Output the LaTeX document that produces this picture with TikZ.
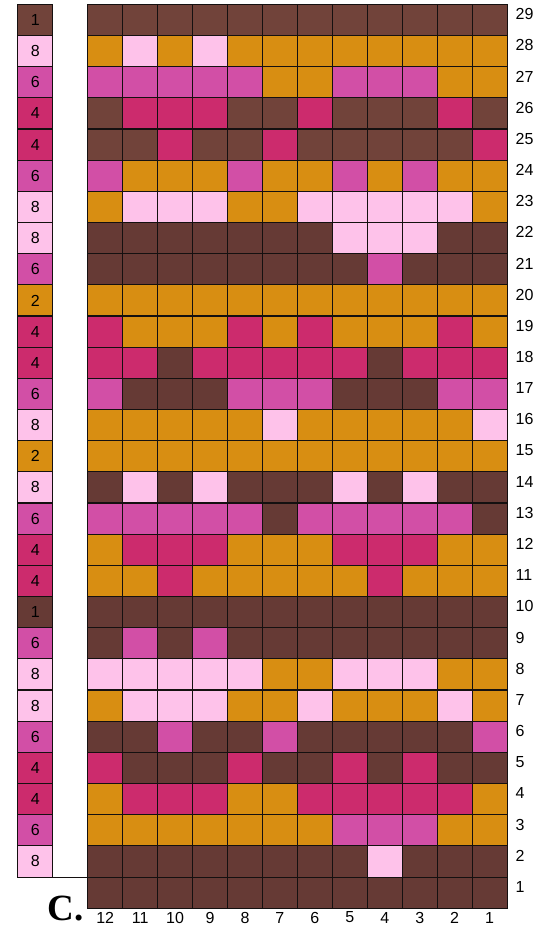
\documentclass[tikz,border=0pt]{standalone}
\usepackage{fontspec}
\setmainfont{Liberation Sans}
\newfontfamily\serifbold{Liberation Serif}
\definecolor{cA}{HTML}{71433A}
\definecolor{cB}{HTML}{663A35}
\definecolor{cO}{HTML}{D88E12}
\definecolor{cL}{HTML}{FEC2EA}
\definecolor{cM}{HTML}{D24FA6}
\definecolor{cD}{HTML}{CC2B6D}
\definecolor{gridline}{HTML}{141010}
\tikzset{
  cell/.style={draw=gridline, line width=1.1pt, rectangle, minimum width=34.95pt, minimum height=31.17pt, inner sep=0pt, outer sep=0pt},
  numtext/.style={font=\fontsize{16}{18}\selectfont, inner sep=0pt, text=black},
}
\begin{document}
\begin{tikzpicture}[x=1pt,y=-1pt]
\useasboundingbox[fill=white] (0,0) rectangle (550,932);
% main grid
\foreach \r/\row in {
29/{A,A,A,A,A,A,A,A,A,A,A,A},
28/{O,L,O,L,O,O,O,O,O,O,O,O},
27/{M,M,M,M,M,O,O,M,M,M,O,O},
26/{A,D,D,D,A,A,D,A,A,A,D,A},
25/{A,A,D,A,A,D,A,A,A,A,A,D},
24/{M,O,O,O,M,O,O,M,O,M,O,O},
23/{O,L,L,L,O,O,L,L,L,L,L,O},
22/{B,B,B,B,B,B,B,L,L,L,B,B},
21/{B,B,B,B,B,B,B,B,M,B,B,B},
20/{O,O,O,O,O,O,O,O,O,O,O,O},
19/{D,O,O,O,D,O,D,O,O,O,D,O},
18/{D,D,B,D,D,D,D,D,B,D,D,D},
17/{M,B,B,B,M,M,M,B,B,B,M,M},
16/{O,O,O,O,O,L,O,O,O,O,O,L},
15/{O,O,O,O,O,O,O,O,O,O,O,O},
14/{B,L,B,L,B,B,B,L,B,L,B,B},
13/{M,M,M,M,M,B,M,M,M,M,M,B},
12/{O,D,D,D,O,O,O,D,D,D,O,O},
11/{O,O,D,O,O,O,O,O,D,O,O,O},
10/{B,B,B,B,B,B,B,B,B,B,B,B},
9/{B,M,B,M,B,B,B,B,B,B,B,B},
8/{L,L,L,L,L,O,O,L,L,L,O,O},
7/{O,L,L,L,O,O,L,O,O,O,L,O},
6/{B,B,M,B,B,M,B,B,B,B,B,M},
5/{D,B,B,B,D,B,B,D,B,D,B,B},
4/{O,D,D,D,O,O,D,D,D,D,D,O},
3/{O,O,O,O,O,O,O,M,M,M,O,O},
2/{B,B,B,B,B,B,B,B,L,B,B,B},
1/{B,B,B,B,B,B,B,B,B,B,B,B}}{
  \foreach \c [count=\i] in \row {
    \node[cell, fill=c\c] (g-\r-\i) at ({87.7+34.95*(\i-0.5)}, {4.3+31.17*(29.5-\r)}) {};
  }
  \node[numtext, anchor=west] (rn-\r) at (515.5, {4.3+31.17*(29-\r)+9.8}) {\r};
}
% legend column
\foreach \r/\c/\n in {29/A/1,28/L/8,27/M/6,26/D/4,25/D/4,24/M/6,23/L/8,22/L/8,21/M/6,20/O/2,19/D/4,18/D/4,17/M/6,16/L/8,15/O/2,14/L/8,13/M/6,12/D/4,11/D/4,10/B/1,9/M/6,8/L/8,7/L/8,6/M/6,5/D/4,4/D/4,3/M/6,2/L/8}{
  \node[cell, minimum width=35pt, fill=c\c, font=\fontsize{16}{18}\selectfont] (k-\r) at (35.2, {4.3+31.17*(29.5-\r)}) {\n};
}
\draw[draw=gridline, line width=1.1pt] (k-2.south west) -- (g-2-1.south west);
% column numbers
\foreach \i in {1,...,12}{
  \pgfmathtruncatemacro{\lab}{13-\i}
  \node[numtext] (cn-\i) at ({87.7+34.95*(\i-0.5)}, 917.5) {\lab};
}
\node[anchor=base west, inner sep=0pt, font=\serifbold\bfseries\fontsize{37}{40}\selectfont] (clabel) at (47.5, 920) {C.};
\end{tikzpicture}
\end{document}
